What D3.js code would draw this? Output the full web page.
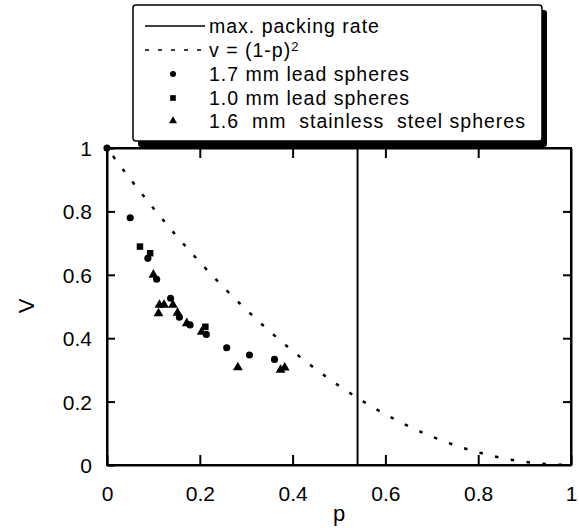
<!DOCTYPE html>
<html>
<head>
<meta charset="utf-8">
<style>
body { margin: 0; background: #fff; }
svg { font-family: "Liberation Sans", Arial, sans-serif; }
.axis path, .axis line { stroke: #000; stroke-width: 2px; }
.axis text { font-size: 21px; fill: #000; }
.legend text { font-size: 19.5px; letter-spacing: 1px; white-space: pre; }
</style>
<script src="https://d3js.org/d3.v7.min.js"></script>
</head>
<body>
<svg width="579" height="528"></svg>
<script>

// 1.7 mm lead spheres (p, v)
var leadLarge = [
  [0.000, 1.000], [0.050, 0.780], [0.088, 0.652], [0.107, 0.586],
  [0.137, 0.526], [0.156, 0.466], [0.179, 0.442], [0.214, 0.412],
  [0.258, 0.370], [0.307, 0.347], [0.361, 0.333]
];
// 1.0 mm lead spheres
var leadSmall = [
  [0.071, 0.689], [0.093, 0.668], [0.212, 0.436]
];
// 1.6 mm stainless steel spheres
var steel = [
  [0.100, 0.600], [0.111, 0.478], [0.113, 0.505], [0.123, 0.505],
  [0.142, 0.505], [0.152, 0.480], [0.172, 0.447], [0.204, 0.420],
  [0.282, 0.308], [0.374, 0.300], [0.383, 0.307]
];
// theoretical curve v = (1-p)^2, values read at fixed p
var curveP = [0, 0.05, 0.1, 0.15, 0.2, 0.25, 0.3, 0.35, 0.4, 0.45, 0.5, 0.55, 0.6, 0.65, 0.7, 0.75, 0.8, 0.85, 0.9, 0.95, 1];
var curveV = [1, 0.9025, 0.81, 0.7225, 0.64, 0.5625, 0.49, 0.4225, 0.36, 0.3025, 0.25, 0.2025, 0.16, 0.1225, 0.09, 0.0625, 0.04, 0.0225, 0.01, 0.0025, 0];
var maxPacking = 0.54;

var xTicks = [0, 0.2, 0.4, 0.6, 0.8, 1];
var yTicks = [0, 0.2, 0.4, 0.6, 0.8, 1];
var legendLabels = ["max. packing rate", "v = (1-p)", "1.7 mm lead spheres", "1.0 mm lead spheres", "1.6  mm  stainless  steel spheres"];

var svg = d3.select("svg");
var x = d3.scaleLinear().domain([0, 1]).range([107, 571]);
var y = d3.scaleLinear().domain([0, 1]).range([465, 148]);

// frame
svg.append("rect")
    .attr("x", x(0)).attr("y", y(1))
    .attr("width", x(1) - x(0)).attr("height", y(0) - y(1))
    .attr("fill", "none").attr("stroke", "#000").attr("stroke-width", 2);

var fmt = function(d) { return d === 0 || d === 1 ? d3.format("d")(d) : d3.format(".1f")(d); };

svg.append("g").attr("class", "axis")
    .attr("transform", "translate(0," + y(0) + ")")
    .call(d3.axisBottom(x).tickValues(xTicks).tickSizeInner(-10).tickSizeOuter(0).tickPadding(28).tickFormat(fmt));

svg.append("g").attr("class", "axis")
    .attr("transform", "translate(" + x(0) + ",0)")
    .call(d3.axisLeft(y).tickValues(yTicks).tickSizeInner(-8).tickSizeOuter(0).tickPadding(15).tickFormat(fmt));

svg.append("g").attr("class", "axis")
    .attr("transform", "translate(0," + y(1) + ")")
    .call(d3.axisTop(x).tickValues(xTicks.slice(1, -1)).tickSizeInner(-10).tickSizeOuter(0).tickFormat(""));

svg.append("g").attr("class", "axis")
    .attr("transform", "translate(" + x(1) + ",0)")
    .call(d3.axisRight(y).tickValues(yTicks.slice(1, -1)).tickSizeInner(-8).tickSizeOuter(0).tickFormat(""));

svg.selectAll(".axis text").attr("dy", null).attr("dominant-baseline", "central");

// axis titles
svg.append("text")
    .attr("x", 339).attr("y", 521)
    .attr("text-anchor", "middle").attr("font-size", 22)
    .text("p");
svg.append("text")
    .attr("transform", "translate(34,306) rotate(-90)")
    .attr("text-anchor", "middle").attr("font-size", 22)
    .text("V");

// curve
var curve = curveP.map(function(p, i) { return [p, curveV[i]]; });
svg.append("path")
    .datum(curve)
    .attr("fill", "none").attr("stroke", "#000")
    .attr("stroke-width", 2.5)
    .attr("stroke-dasharray", "3.5,12.5")
    .attr("stroke-dashoffset", -10)
    .attr("d", d3.line().x(function(d) { return x(d[0]); }).y(function(d) { return y(d[1]); }).curve(d3.curveMonotoneX));

// max packing line
svg.append("line")
    .attr("x1", x(maxPacking)).attr("x2", x(maxPacking))
    .attr("y1", y(0)).attr("y2", y(1))
    .attr("stroke", "#000").attr("stroke-width", 2);

// markers
var circleSym = d3.symbol().type(d3.symbolCircle).size(40);
var squareSym = d3.symbol().type(d3.symbolSquare).size(42);
var triSym = d3.symbol().type(d3.symbolTriangle).size(42);

function drawSeries(data, sym) {
  svg.append("g").selectAll("path")
    .data(data)
    .enter().append("path")
    .attr("d", sym)
    .attr("fill", "#000")
    .attr("transform", function(d) { return "translate(" + x(d[0]) + "," + y(d[1]) + ")"; });
}
drawSeries(steel, triSym);
drawSeries(leadSmall, squareSym);
drawSeries(leadLarge, circleSym);

// legend
var lg = svg.append("g").attr("class", "legend");
lg.append("rect")
    .attr("x", 138).attr("y", 10).attr("width", 409).attr("height", 137)
    .attr("rx", 3).attr("fill", "#000");
lg.append("rect")
    .attr("x", 133).attr("y", 5).attr("width", 409).attr("height", 136)
    .attr("rx", 3).attr("fill", "#fff").attr("stroke", "#000").attr("stroke-width", 1.5);

var rowY = [26, 50, 74, 98, 121];
lg.append("line").attr("x1", 145).attr("x2", 205).attr("y1", rowY[0]).attr("y2", rowY[0])
    .attr("stroke", "#000").attr("stroke-width", 1.5);
lg.append("line").attr("x1", 145).attr("x2", 205).attr("y1", rowY[1]).attr("y2", rowY[1])
    .attr("stroke", "#000").attr("stroke-width", 1.5).attr("stroke-dasharray", "4,9");
lg.append("path").attr("d", d3.symbol().type(d3.symbolCircle).size(28)).attr("transform", "translate(173," + rowY[2] + ")");
lg.append("path").attr("d", d3.symbol().type(d3.symbolSquare).size(32)).attr("transform", "translate(173," + rowY[3] + ")");
lg.append("path").attr("d", d3.symbol().type(d3.symbolTriangle).size(28)).attr("transform", "translate(173," + rowY[4] + ")");

lg.selectAll("text.lab")
    .data(legendLabels)
    .enter().append("text")
    .attr("class", "lab")
    .attr("xml:space", "preserve")
    .attr("x", 209)
    .attr("y", function(d, i) { return rowY[i] + 7; })
    .text(function(d) { return d; });
lg.selectAll("text.lab").filter(function(d, i) { return i === 1; })
    .append("tspan").attr("dy", -6).attr("font-size", 13).text("2");

</script>
</body>
</html>
